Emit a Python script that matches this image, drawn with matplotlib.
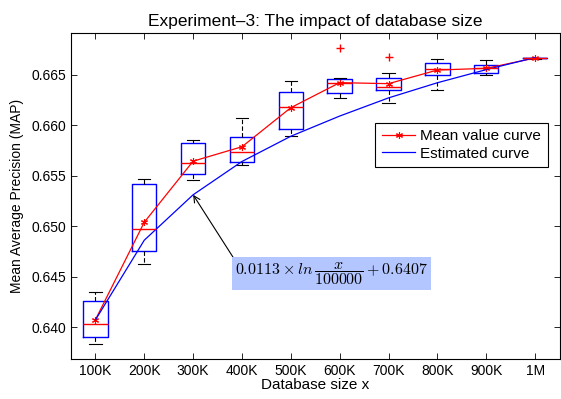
import numpy as np
import matplotlib
matplotlib.use('Agg')
import matplotlib.pyplot as plt
from matplotlib.lines import Line2D

plt.rcParams['font.family'] = ['Liberation Sans', 'DejaVu Sans']
plt.rcParams['mathtext.fontset'] = 'cm'

# values
sizes = ['100K', '200K', '300K', '400K', '500K', '600K', '700K', '800K', '900K', '1M']
q1 = [0.63897, 0.64750, 0.65518, 0.65633, 0.65957, 0.66315, 0.66351, 0.66496, 0.66516, 0.66663]
med = [0.64033, 0.64972, 0.65627, 0.65732, 0.66183, 0.66414, 0.66377, 0.66553, 0.66565, 0.66665]
q3 = [0.64254, 0.65419, 0.65825, 0.65885, 0.66324, 0.66460, 0.66470, 0.66619, 0.66599, 0.66667]
wlo = [0.63831, 0.64625, 0.65454, 0.65610, 0.65888, 0.66268, 0.66222, 0.66344, 0.66493, 0.66660]
whi = [0.64347, 0.65471, 0.65851, 0.66069, 0.66437, 0.66466, 0.66520, 0.66659, 0.66645, 0.66670]
outliers = [[], [], [], [], [], [0.66768], [0.66675], [], [], []]
means = [0.64072, 0.65038, 0.65643, 0.65786, 0.66173, 0.66421, 0.66411, 0.66546, 0.66563, 0.66665]
estimated = [0.6407, 0.6486, 0.6531, 0.6564, 0.6589, 0.6609, 0.6627, 0.6642, 0.6655, 0.6667]

pos = np.arange(1, len(sizes) + 1)
stats = [dict(q1=a, med=b, q3=c, whislo=d, whishi=e, fliers=f)
         for a, b, c, d, e, f in zip(q1, med, q3, wlo, whi, outliers)]

fig = plt.figure(figsize=(5.61, 3.99), dpi=100)
ax = fig.add_axes([71 / 561, 1 - 359.3 / 399, 488.5 / 561, 326 / 399])

ax.bxp(stats, positions=pos, widths=0.5, showfliers=True,
       boxprops=dict(color='blue', lw=1.0),
       medianprops=dict(color='red', lw=1.0),
       whiskerprops=dict(color='black', lw=0.8, ls=(0, (4, 2))),
       capprops=dict(color='black', lw=0.8),
       flierprops=dict(marker='+', markeredgecolor='red', markersize=6, lw=0))

ax.plot(pos, means, color='red', lw=0.9, marker=(6, 2, 0), markersize=5, mew=0.8)
ax.plot(pos, estimated, color='blue', lw=0.9)

ax.annotate(r'$0.0113\times ln\,\dfrac{x}{100000}+0.6407$',
            xy=(3, estimated[2]), xytext=(5.83, 0.6453),
            ha='center', va='center', fontsize=11.5,
            bbox=dict(boxstyle='square,pad=0.18', fc='#b3c6ff', ec='none'),
            arrowprops=dict(arrowstyle='->', color='black', lw=0.8,
                            relpos=(0, 1), shrinkA=0, shrinkB=0))

ax.set_xlim(0.5, 10.5)
ax.set_ylim(0.6368, 0.6691)
ax.set_xticks(pos)
ax.set_xticklabels(sizes)
ax.set_yticks([0.640, 0.645, 0.650, 0.655, 0.660, 0.665])
ax.set_yticklabels(['0.640', '0.645', '0.650', '0.655', '0.660', '0.665'])
ax.tick_params(direction='in', top=True, right=True, labelsize=10, length=4, width=0.6)
for s in ax.spines.values():
    s.set_linewidth(0.8)

ax.set_xlabel('Database size x', fontsize=11, labelpad=0)
ax.set_ylabel('Mean Average Precision (MAP)', fontsize=10, labelpad=5)
ax.set_title('Experiment\u20133: The impact of database size', fontsize=12.5, pad=5)

handles = [Line2D([], [], color='red', lw=0.9, marker=(6, 2, 0), markersize=5, mew=0.8),
           Line2D([], [], color='blue', lw=0.9)]
leg = ax.legend(handles, ['Mean value curve', 'Estimated curve'],
                loc='upper right', bbox_to_anchor=(0.976, 0.726),
                fancybox=False, edgecolor='black', framealpha=1,
                fontsize=11, borderaxespad=0, handlelength=2.2,
                borderpad=0.45, labelspacing=0.2, handletextpad=0.3)
leg.get_frame().set_linewidth(0.8)

fig.savefig('out.png', dpi=100)
